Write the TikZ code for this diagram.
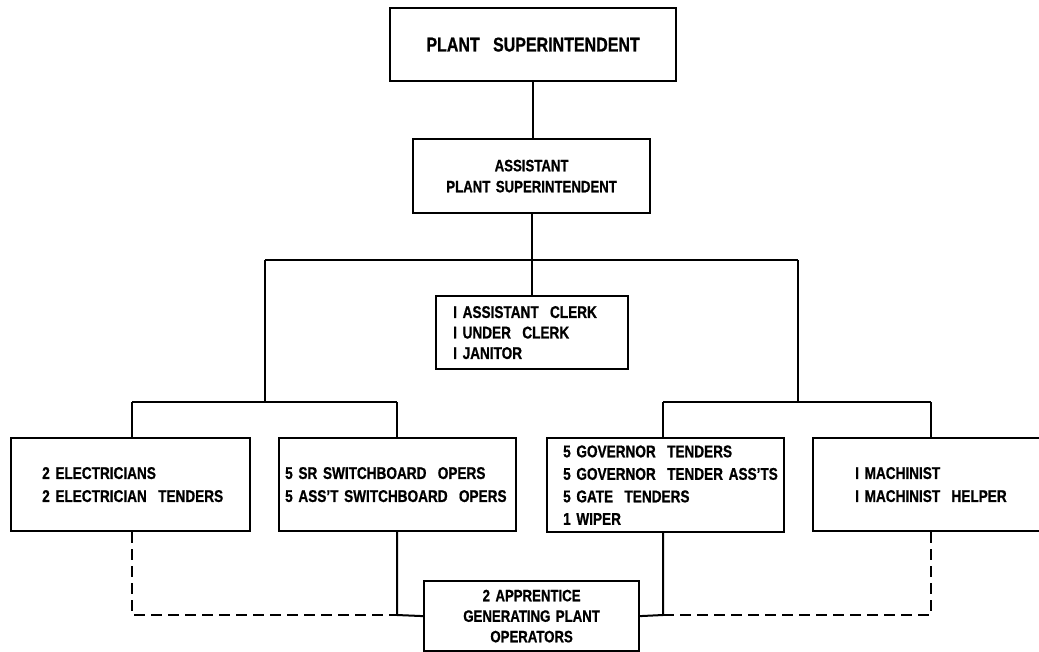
\documentclass[tikz,border=0pt]{standalone}
\usepackage{fontspec}
\setmainfont{Liberation Sans}[FakeStretch=0.80,WordSpace=1.5,BoldFeatures={FakeBold=0.8}]
\begin{document}
\begin{tikzpicture}[x=1pt,y=-1pt,
  box/.style={draw, line width=2.2pt, inner sep=0pt, anchor=north west},
  txt/.style={inner sep=0pt, anchor=west, align=left,
     font=\fontsize{17pt}{23pt}\selectfont\bfseries},
  ctxt/.style={txt, anchor=center, align=center},
  conn/.style={line width=2pt},
  dconn/.style={line width=2pt, dash pattern=on 11pt off 6pt}]
\useasboundingbox (0,0) rectangle (1039,651);
\fill[white] (0,0) rectangle (1039,651);
% boxes
\node[box, minimum width=286pt, minimum height=73pt] (ps) at (389,7) {};
\node[box, minimum width=237pt, minimum height=74pt] (aps) at (412,138) {};
\node[box, minimum width=192pt, minimum height=73pt] (clerk) at (435,295) {};
\node[box, minimum width=239pt, minimum height=93pt] (e) at (10,437) {};
\node[box, minimum width=237pt, minimum height=93pt] (sw) at (278,437) {};
\node[box, minimum width=237pt, minimum height=94pt] (g) at (546,437) {};
\node[box, minimum width=240pt, minimum height=93pt] (m) at (812,437) {};
\node[box, minimum width=215pt, minimum height=70pt] (app) at (423,580) {};
% texts
\node[ctxt, font=\fontsize{20pt}{24pt}\selectfont\bfseries] (pst) at (ps.center) {PLANT\ \ SUPERINTENDENT};
\node[ctxt, font=\fontsize{16.5pt}{21pt}\selectfont\bfseries] (apst) at (aps.center) {ASSISTANT\\PLANT SUPERINTENDENT};
\node[txt, font=\fontsize{17pt}{20.5pt}\selectfont\bfseries] (clerkt) at ([xshift=18pt]clerk.west)
  {I ASSISTANT\ \ CLERK\\I UNDER\ \ CLERK\\I JANITOR};
\node[txt] (et) at ([xshift=32pt]e.west) {2 ELECTRICIANS\\2 ELECTRICIAN\ \ TENDERS};
\node[txt] (swt) at ([xshift=7pt]sw.west) {5 SR SWITCHBOARD\ \ OPERS\\5 ASS'T SWITCHBOARD\ \ OPERS};
\node[txt, font=\fontsize{17pt}{22.5pt}\selectfont\bfseries] (gt) at ([xshift=17pt]g.west)
  {5 GOVERNOR\ \ TENDERS\\5 GOVERNOR\ \ TENDER ASS'TS\\5 GATE\ \ TENDERS\\1 WIPER};
\node[txt] (mt) at ([xshift=43pt]m.west) {I MACHINIST\\I MACHINIST\ \ HELPER};
\node[ctxt, font=\fontsize{16.5pt}{20.5pt}\selectfont\bfseries] (appt) at (app.center)
  {2 APPRENTICE\\GENERATING PLANT\\OPERATORS};
% junction coordinates
\coordinate (busL) at (265,260);
\coordinate (busR) at (798,260);
\coordinate (lbus) at (265,402);
\coordinate (rbus) at (798,402);
\coordinate (lbL) at (132,402);
\coordinate (lbR) at (397,402);
\coordinate (rbL) at (663,402);
\coordinate (rbR) at (931,402);
\coordinate (dl) at (397,615);
\coordinate (dr) at (663,615);
% connectors
\draw[conn] (ps.south) -- (ps.south |- aps.north);
\draw[conn] (aps.south) -- (aps.south |- clerk.north);
\draw[conn] (busL) -- (busR);
\draw[conn] (busL) -- (lbus);
\draw[conn] (busR) -- (rbus);
\draw[conn] (lbL) -- (lbR);
\draw[conn] (rbL) -- (rbR);
\draw[conn] (lbL) -- (lbL |- e.north);
\draw[conn] (lbR) -- (lbR |- sw.north);
\draw[conn] (rbL) -- (rbL |- g.north);
\draw[conn] (rbR) -- (rbR |- m.north);
\draw[conn] (sw.south -| dl) -- (dl) -- (app.west);
\draw[conn] (g.south -| dr) -- (dr) -- (app.east);
\draw[dconn] (e.south -| lbL) |- (dl);
\draw[dconn] (m.south -| rbR) |- (dr);
\end{tikzpicture}
\end{document}
